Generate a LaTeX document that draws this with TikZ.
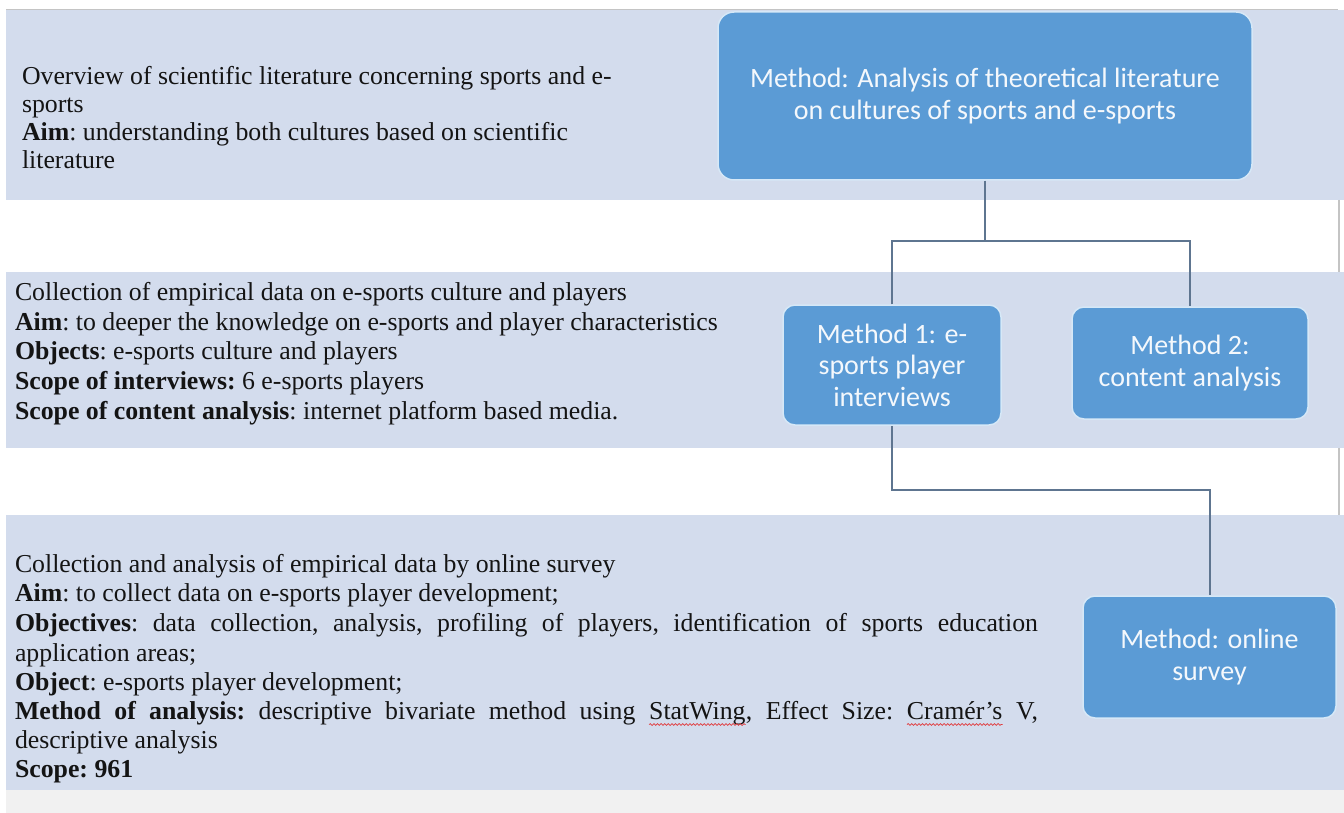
\documentclass[tikz,border=0pt]{standalone}
\usepackage{fontspec}
\setmainfont{Liberation Serif}
\newfontfamily\boxfont{Carlito}
\usetikzlibrary{decorations.pathmorphing}

\definecolor{bandfill}{HTML}{D3DCED}
\definecolor{boxfill}{HTML}{5B9BD5}
\definecolor{boxedge}{HTML}{D6E8F7}
\definecolor{boxtext}{HTML}{F4F8FC}
\definecolor{wirecol}{HTML}{5E7590}
\definecolor{footfill}{HTML}{F1F1F1}
\definecolor{rimcol}{HTML}{C4C4C4}
\definecolor{squigred}{HTML}{E0393B}

\tikzset{
  band/.style={fill=bandfill},
  method/.style={rectangle, rounded corners=12pt, fill=boxfill, draw=boxedge,
    line width=1.5pt, text=boxtext, align=center, inner sep=0pt,
    font=\boxfont\fontsize{28}{31.5}\selectfont},
  txt/.style={anchor=base west, inner sep=0pt, outer sep=0pt,
    font=\fontsize{25.8}{29.5}\selectfont\frenchspacing, text=black!92},
  wire/.style={draw=wirecol, line width=2pt},
  squigline/.style={draw=squigred, line width=0.7pt, decorate,
    decoration={snake, amplitude=0.9pt, segment length=3.6pt}},
}

% red wavy spell-check underline below a word
\newcommand\squig[1]{\tikz[baseline=(sq.base)]{%
  \node[inner sep=0pt, outer sep=0pt, anchor=base] (sq) {#1};%
  \draw[squigline] ([yshift=-5.5pt]sq.base west) -- ([yshift=-5.5pt]sq.base east);}}

\begin{document}
\begin{tikzpicture}[x=1pt, y=-1pt]
\useasboundingbox (0,0) rectangle (1344,813);

% horizontal bands
\fill[band] (6,10) rectangle (1344,200);
\fill[band] (6,272) rectangle (1344,448);
\fill[band] (6,515) rectangle (1344,790);
\fill[footfill] (6,790) rectangle (1344,813);
\draw[rimcol, line width=1pt] (6,10) -- (1338,10);
\draw[rimcol, line width=1.2pt] (1339,200) -- (1339,272);
\draw[rimcol, line width=1.2pt] (1339,448) -- (1339,515);

% method boxes
\node[method, rounded corners=16pt, minimum width=534pt, minimum height=168pt] (lit) at (985,96)
  {Method: Analysis of theoretical literature\\on cultures of sports and e-sports};
\node[method, minimum width=218pt, minimum height=120pt] (inter) at (892,365)
  {Method 1: e-\\sports player\\interviews};
\node[method, minimum width=236pt, minimum height=112pt] (content) at (1190,363)
  {Method 2:\\content analysis};
\node[method, minimum width=253pt, minimum height=122pt] (survey) at (1209.5,657)
  {Method: online\\survey};

% connectors
\coordinate (fork) at (985,241);
\coordinate (bend) at (892,490);
\draw[wire] (lit.south) -- (fork);
\draw[wire] (inter.north) |- (fork) -| (content.north);
\draw[wire] (inter.south) -- (bend) -| (survey.north);

% band 1 text
\node[txt] (oa) at (22,85) {Overview of scientific literature concerning sports and e-};
\node[txt] (ob) at (22,113) {sports};
\node[txt] (oc) at (22,141) {\textbf{Aim}: understanding both cultures based on scientific};
\node[txt] (od) at (22,169) {literature};

% band 2 text
\node[txt] (ca) at (15,300) {Collection of empirical data on e-sports culture and players};
\node[txt] (cb) at (15,330) {\textbf{Aim}: to deeper the knowledge on e-sports and player characteristics};
\node[txt] (cc) at (15,359) {\textbf{Objects}: e-sports culture and players};
\node[txt] (cd) at (15,389) {\textbf{Scope of interviews:} 6 e-sports players};
\node[txt] (ce) at (15,419) {\textbf{Scope of content analysis}: internet platform based media.};

% band 3 text
\node[txt] (sa) at (15,572) {Collection and analysis of empirical data by online survey};
\node[txt] (sb) at (15,601) {\textbf{Aim}: to collect data on e-sports player development;};
\node[txt] (sc) at (15,631) {\makebox[1023pt][s]{\textbf{Objectives}: data collection, analysis, profiling of players, identification of sports education}};
\node[txt] (sd) at (15,661) {application areas;};
\node[txt] (se) at (15,690) {\textbf{Object}: e-sports player development;};
\node[txt] (sf) at (15,719) {\makebox[1023pt][s]{\textbf{Method of analysis:} descriptive bivariate method using \squig{StatWing}, Effect Size: \squig{Cramér’s} V,}};
\node[txt] (sg) at (15,748) {descriptive analysis};
\node[txt] (sh) at (15,777) {\textbf{Scope: 961}};
\end{tikzpicture}
\end{document}
